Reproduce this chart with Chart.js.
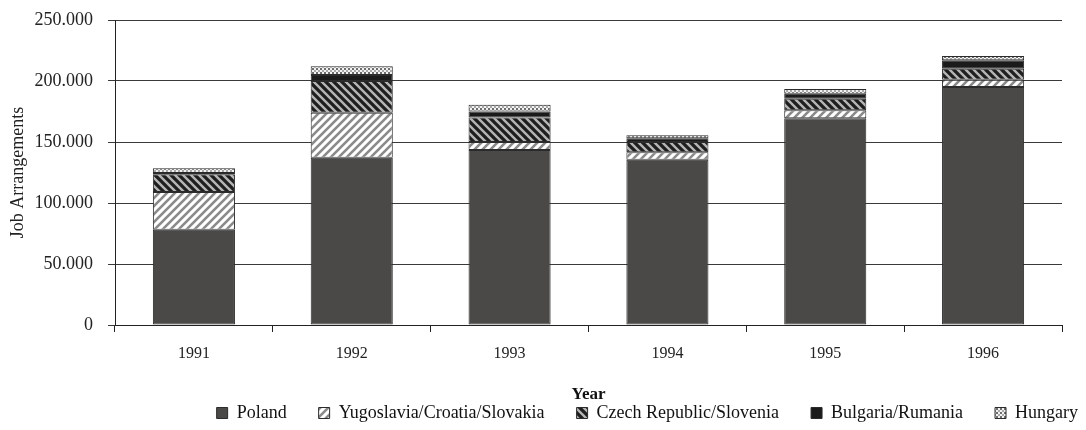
<!DOCTYPE html>
<html>
<head>
<meta charset="utf-8">
<title>Job Arrangements by Year</title>
<script src="https://cdn.jsdelivr.net/npm/chart.js@4.4.1/dist/chart.umd.min.js"></script>
<style>
    html, body { margin: 0; padding: 0; background: #ffffff; }
    #wrap { width: 1086px; height: 430px; }
</style>
</head>
<body>
<div id="wrap"><canvas id="jobChart"></canvas></div>
<script>
// --- 1. DATA ---
const years = ['1991', '1992', '1993', '1994', '1995', '1996'];

const poland     = [78000, 137000, 143500, 135500, 169500, 195000];
const yugoslavia = [31000, 37000, 6500, 6000, 6500, 6000];
const czech      = [14500, 26000, 20000, 8500, 9500, 9000];
const bulgaria   = [1000, 5000, 5000, 3000, 4000, 7000];
const hungary    = [4000, 7000, 5500, 2500, 4000, 3500];

const yTicks = [0, 50000, 100000, 150000, 200000, 250000];

// --- 2. FILL PATTERNS ---
function makeTile(size, draw) {
    const c = document.createElement('canvas');
    c.width = size;
    c.height = size;
    const g = c.getContext('2d');
    draw(g, size);
    return g.createPattern(c, 'repeat');
}

// white with grey "/" stripes
const yugoFill = makeTile(8, (g, s) => {
    g.fillStyle = '#ffffff';
    g.fillRect(0, 0, s, s);
    g.strokeStyle = '#8a8a8a';
    g.lineWidth = 2.6;
    g.beginPath();
    g.moveTo(-2, s + 2); g.lineTo(s + 2, -2);
    g.moveTo(-2, 2); g.lineTo(2, -2);
    g.moveTo(s - 2, s + 2); g.lineTo(s + 2, s - 2);
    g.stroke();
});

// dark with light "\" stripes
const czechFill = makeTile(8, (g, s) => {
    g.fillStyle = '#1e1e1e';
    g.fillRect(0, 0, s, s);
    g.strokeStyle = '#b5b5b5';
    g.lineWidth = 2.4;
    g.beginPath();
    g.moveTo(-2, -2); g.lineTo(s + 2, s + 2);
    g.moveTo(s - 2, -2); g.lineTo(s + 2, 2);
    g.moveTo(-2, s - 2); g.lineTo(2, s + 2);
    g.stroke();
});

// small checker dots
const hungaryFill = makeTile(4, (g, s) => {
    g.fillStyle = '#f2f2f2';
    g.fillRect(0, 0, s, s);
    g.fillStyle = '#6e6e6e';
    g.fillRect(0, 0, 2, 2);
    g.fillStyle = '#a8a8a8';
    g.fillRect(2, 2, 2, 2);
});

const fmt = (v) => String(v).replace(/\B(?=(\d{3})+(?!\d))/g, '.');

// --- 3. CHART ---
Chart.defaults.font.family = '"Liberation Serif", "Times New Roman", serif';
Chart.defaults.font.size = 16;
Chart.defaults.color = '#222222';

const barStyle = {
    borderColor: '#2b2b2b',
    borderWidth: 1,
    borderSkipped: false,
    barPercentage: 0.52,
    categoryPercentage: 1.0
};

new Chart(document.getElementById('jobChart'), {
    type: 'bar',
    data: {
        labels: years,
        datasets: [
            { label: 'Poland', data: poland, backgroundColor: '#4b4947', ...barStyle },
            { label: 'Yugoslavia/Croatia/Slovakia', data: yugoslavia, backgroundColor: yugoFill, ...barStyle },
            { label: 'Czech Republic/Slovenia', data: czech, backgroundColor: czechFill, ...barStyle },
            { label: 'Bulgaria/Rumania', data: bulgaria, backgroundColor: '#1b1b1b', ...barStyle },
            { label: 'Hungary', data: hungary, backgroundColor: hungaryFill, ...barStyle }
        ]
    },
    options: {
        responsive: true,
        maintainAspectRatio: false,
        animation: false,
        // negative right padding lets the legend run to the canvas edge,
        // the empty right axis below keeps the plot clear of it
        layout: { padding: { top: 0, right: -24, left: 0, bottom: -2 } },
        plugins: {
            tooltip: { enabled: false },
            legend: {
                position: 'bottom',
                align: 'end',
                labels: {
                    boxWidth: 11,
                    boxHeight: 11,
                    padding: 32,
                    color: '#111111',
                    font: { size: 18 }
                }
            }
        },
        scales: {
            x: {
                stacked: true,
                afterFit: (scale) => { scale.height = 47; },
                grid: {
                    offset: true,
                    drawOnChartArea: false,
                    drawTicks: true,
                    tickLength: 7,
                    color: '#222222'
                },
                border: { display: true, color: '#222222', width: 1 },
                ticks: { padding: 12, font: { size: 16 }, color: '#222222' },
                title: {
                    display: true,
                    text: 'Year',
                    font: { size: 17, weight: 'bold' },
                    color: '#111111',
                    padding: { top: 0, bottom: -33 }
                }
            },
            y: {
                stacked: true,
                min: 0,
                max: 250000,
                afterFit: (scale) => {
                    scale.width = 115;
                    scale.paddingTop = 20;
                },
                afterBuildTicks: (scale) => { scale.ticks = yTicks.map(v => ({ value: v })); },
                grid: {
                    drawTicks: true,
                    tickLength: 7,
                    color: '#3a3a3a',
                    lineWidth: 1
                },
                border: { display: true, color: '#222222', width: 1 },
                ticks: {
                    padding: 15,
                    font: { size: 18 },
                    color: '#222222',
                    callback: (v) => fmt(v)
                },
                title: {
                    display: true,
                    text: 'Job Arrangements',
                    font: { size: 18 },
                    color: '#222222',
                    padding: { top: 7, bottom: 0 }
                }
            },
            yRight: {
                position: 'right',
                afterFit: (scale) => { scale.width = 48; },
                grid: { display: false },
                border: { display: false },
                ticks: { display: false }
            }
        }
    }
});
</script>
</body>
</html>
